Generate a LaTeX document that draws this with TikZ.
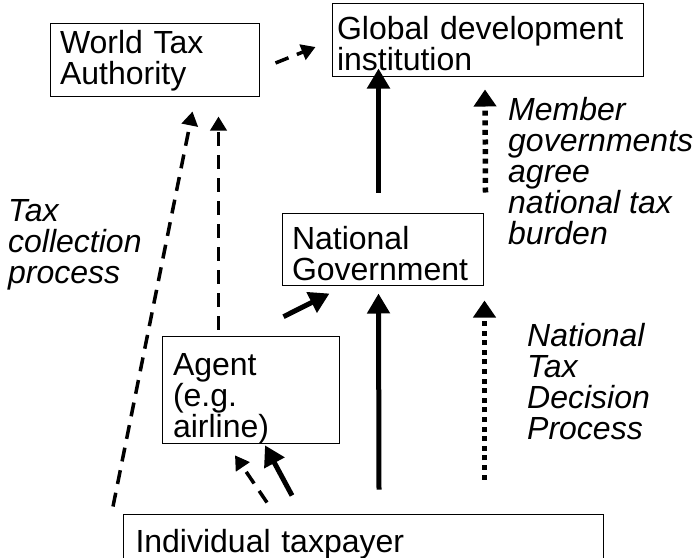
\documentclass[tikz,border=0pt]{standalone}
\usepackage{fontspec}
\setmainfont{Liberation Sans}
\usetikzlibrary{arrows.meta,calc}

\begin{document}
\begin{tikzpicture}[x=1pt,y=-1pt,
    box/.style={draw,line width=1pt,inner xsep=10pt,inner ysep=0pt,align=left,
      font=\fontsize{32}{31}\selectfont},
    lbl/.style={inner sep=0pt,align=left,anchor=north west,
      font=\fontsize{32}{31}\selectfont\itshape},
    solidarr/.style={line width=5pt,-{Triangle[length=20pt,width=22pt]}},
    dasharr/.style={line width=3.5pt,dash pattern=on 14pt off 9pt,
      -{Triangle[length=14pt,width=16pt]}},
    dotarr/.style={line width=5.5pt,dash pattern=on 5pt off 4.6pt,
      -{Triangle[length=17pt,width=22pt]}}]
  \useasboundingbox (0,0) rectangle (696,557);
  \clip (0,0) rectangle (696,557);
  % Boxes
  \node[box,text width=189pt,minimum height=73pt] (wta) at (154.5,59.5) {\rule{0pt}{25pt}World Tax\\Authority};
  \node[box,inner xsep=5pt,text width=301pt,minimum height=73pt] (gdi) at (487.5,39.5) {\rule{0pt}{31pt}Global development\\institution};
  \node[box,text width=181pt,minimum height=72pt] (ng) at (382.5,249) {\rule{0pt}{33pt}National\\Government};
  \node[box,inner xsep=11pt,text width=155pt,minimum height=104pt] (agent) at (250.5,390) {\rule{0pt}{39pt}Agent\\(e.g.\\airline)};
  \node[box,anchor=base west,inner xsep=12pt,text width=456pt,text height=38pt,text depth=10pt] (tp) at (123,552) {Individual taxpayer};
  % Labels
  \node[lbl] (collect) at (8,199) {Tax\\collection\\process};
  \node[lbl] (agree) at (508,97) {Member\\governments\\agree\\national tax\\burden};
  \node[lbl] (decide) at (527,323) {National\\Tax\\Decision\\Process};
  % Tax collection
  \draw[dasharr] ($(tp.north west)+(-10,-7)$) -- ($(wta.south)+(38,15)$);
  \draw[dasharr] ($(agent.north)+(-32,-6)$) -- ($(wta.south)+(64,20)$);
  \draw[dasharr] ($(wta.east)+(16,3.5)$) -- ($(gdi.west)+(-16,7.5)$);
  \draw[dasharr] ($(tp.north west)+(144,-11)$) -- ($(agent.south)+(-15.5,11)$);
  % Payments
  \draw[solidarr] ($(tp.north west)+(169,-18)$) -- ($(agent.south)+(14.5,1)$);
  \draw[solidarr] ($(agent.north east)+(-56,-19)$) -- ($(ng.south west)+(48,8)$);
  \draw[solidarr] ($(tp.north)+(15.5,-24)$) -- ($(ng.south)+(-4,8)$);
  \draw[solidarr] ($(ng.north)+(-4,-20)$) -- ($(gdi.south)+(-109,-8)$);
  % Decisions
  \draw[dotarr] ($(ng.north east)+(2,-20)$) -- ($(gdi.south)+(-2.5,13)$);
  \draw[dotarr] ($(tp.north)+(121,-34)$) -- ($(ng.south east)+(1,15)$);
\end{tikzpicture}
\end{document}
